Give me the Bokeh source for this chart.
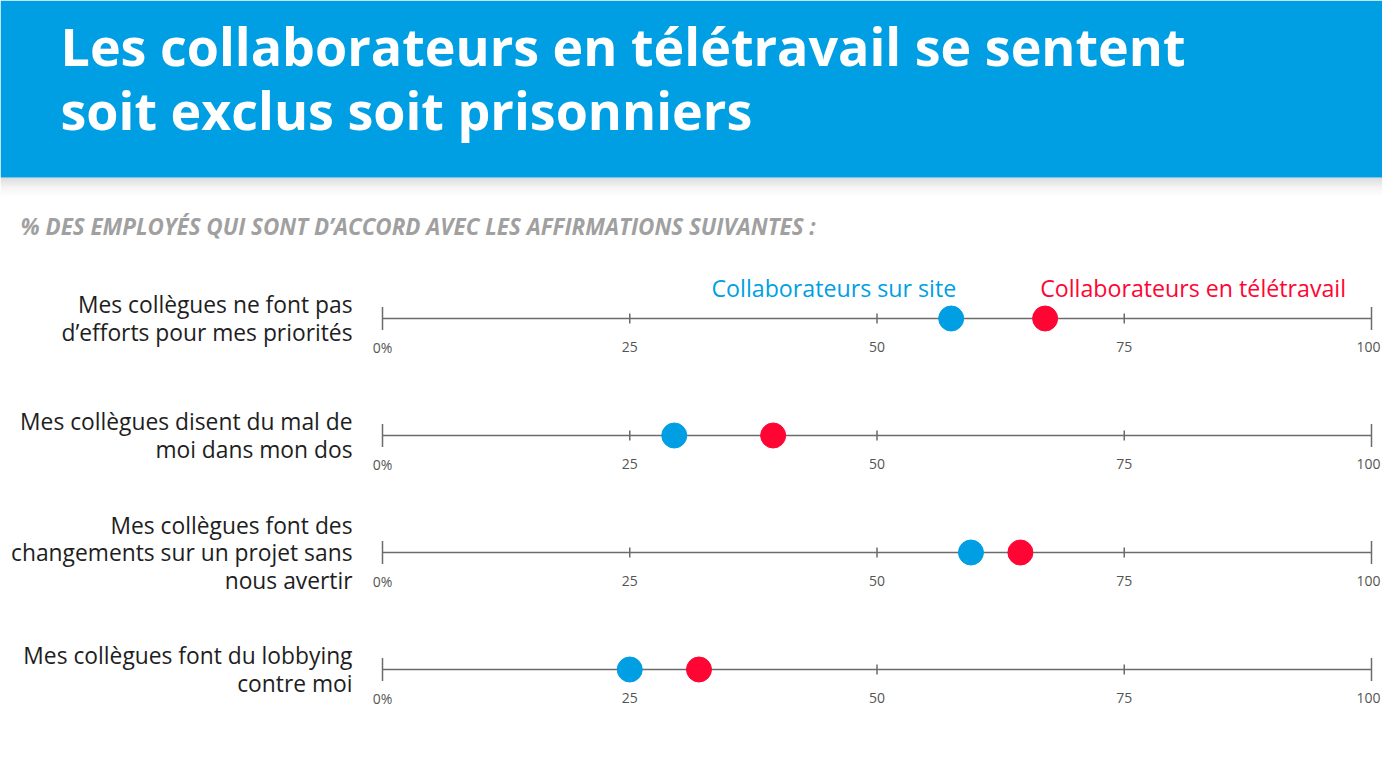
from bokeh.plotting import figure
from bokeh.models import Range1d
from bokeh.core.properties import value
from bokeh.embed import file_html
from bokeh.resources import INLINE

# ---------------- data ----------------
title_lines = ["Les collaborateurs en télétravail se sentent",
               "soit exclus soit prisonniers"]
subtitle = "% DES EMPLOYÉS QUI SONT D’ACCORD AVEC LES AFFIRMATIONS SUIVANTES :"
statements = [
    ["Mes collègues ne font pas", "d’efforts pour mes priorités"],
    ["Mes collègues disent du mal de", "moi dans mon dos"],
    ["Mes collègues font des", "changements sur un projet sans", "nous avertir"],
    ["Mes collègues font du lobbying", "contre moi"],
]
series_names = ["Collaborateurs sur site", "Collaborateurs en télétravail"]
on_site = [57.5, 29.5, 59.5, 25.0]
remote = [67.0, 39.5, 64.5, 32.0]
tick_values = [0, 25, 50, 75, 100]
tick_labels = ["0%", "25", "50", "75", "100"]

# ---------------- layout ----------------
W, H = 1382, 760
PX_PER_UNIT = 9.89
ZERO_PX = 382.0
x0 = (0 - ZERO_PX) / PX_PER_UNIT
x1 = (W - ZERO_PX) / PX_PER_UNIT


def px(xpage):
    return (xpage - ZERO_PX) / PX_PER_UNIT


BLUE = "#009FE3"
RED = "#FF0534"
AXIS = "#6b6b6b"

row_y0, row_step = 318, 117
row_ys = [row_y0 + i * row_step for i in range(len(statements))]

p = figure(width=W, height=H, x_range=Range1d(x0, x1), y_range=Range1d(H, 0),
           output_backend="svg", toolbar_location=None, min_border=0,
           background_fill_color="white", border_fill_color="white")
p.axis.visible = False
p.grid.visible = False
p.outline_line_color = None

# header band + soft shadow
for i in range(22):
    a = 0.30 * (1 - i / 22) ** 2
    p.quad(left=x0, right=x1, top=177 + i, bottom=178 + i, color="#808080",
           alpha=a, line_color=None)
p.quad(left=x0, right=x1, top=0, bottom=177, color=BLUE, line_color=None)

p.text(x=[px(60)] * 2, y=[44.5, 108.5], text=title_lines, text_color="white",
       text_font=value("Open Sans"), text_font_style="bold", text_font_size="52px",
       text_baseline="middle", text_align="left")

p.text(x=[px(20)], y=[225.5], text=[subtitle], text_color="#a0a0a0",
       text_font=value("Open Sans"), text_font_style="bold italic",
       text_font_size="22.4px", text_baseline="middle", text_align="left")

# statement labels
lx, ly, lt = [], [], []
for ry, lines in zip(row_ys, statements):
    n = len(lines)
    for k, line in enumerate(lines):
        lx.append(px(352))
        ly.append(ry + (k - (n - 1) / 2) * 27.5)
        lt.append(line)
p.text(x=lx, y=ly, text=lt, text_color="#1e1e1e", text_font=value("Open Sans"),
       text_font_size="22.8px", text_baseline="middle", text_align="right")

# axes per row
for ry in row_ys:
    p.segment(x0=[tick_values[0]], x1=[tick_values[-1]], y0=[ry], y1=[ry],
              line_color=AXIS, line_width=1.5)
    half = [11.5 if (t == tick_values[0] or t == tick_values[-1]) else 5 for t in tick_values]
    p.segment(x0=tick_values, x1=tick_values, y0=[ry - h for h in half],
              y1=[ry + h for h in half], line_color=AXIS, line_width=1.5)
    p.text(x=tick_values[:-1], y=[ry + 28.5] * (len(tick_values) - 1), text=tick_labels[:-1],
           text_color="#555555", text_font=value("Open Sans"), text_font_size="14px",
           text_baseline="middle", text_align="center")
    p.text(x=tick_values[-1:], y=[ry + 28.5], text=tick_labels[-1:],
           text_color="#555555", text_font=value("Open Sans"), text_font_size="14px",
           text_baseline="middle", text_align="right", x_offset=9)

# dots
p.scatter(x=on_site, y=row_ys, size=25, marker="circle", fill_color=BLUE, line_color=BLUE)
p.scatter(x=remote, y=row_ys, size=25, marker="circle", fill_color=RED, line_color=RED)

# series labels
p.text(x=[on_site[0]], y=[287], text=[series_names[0]], text_color=BLUE,
       text_font=value("Open Sans"), text_font_size="23.2px", text_baseline="middle",
       text_align="right", x_offset=5)
p.text(x=[remote[0]], y=[287], text=[series_names[1]], text_color=RED,
       text_font=value("Open Sans"), text_font_size="23.2px", text_baseline="middle",
       text_align="left", x_offset=-5)

open("out.html", "w").write(file_html(p, INLINE))
